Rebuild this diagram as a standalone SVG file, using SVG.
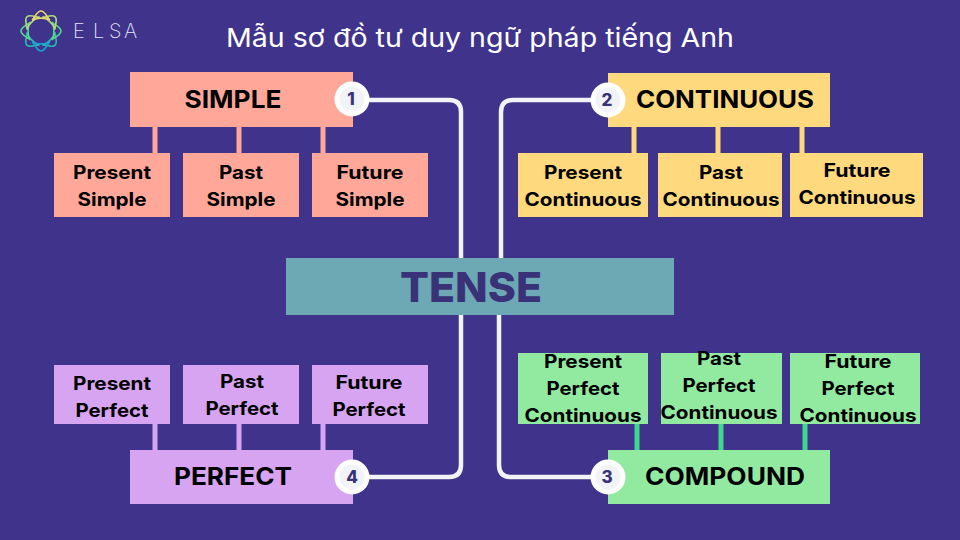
<svg xmlns="http://www.w3.org/2000/svg" width="960" height="540" viewBox="0 0 960 540">
<style>
text{font-family:"Inter","Open Sans","Liberation Sans",sans-serif;font-weight:700;fill:#000;text-anchor:middle}
.sub{font-size:18.5px;font-weight:700}
.main{font-size:24px;font-weight:700}
.pipe{stroke-width:5;fill:none}
.wire{stroke:#f2f3f7;stroke-width:4.5;fill:none}
.ring{fill:#f2f3f7;stroke:#fff;stroke-width:5}
.num{font-size:17px;fill:#3a3278;font-weight:800}
.s{fill:#ffa899}.c{fill:#ffd97d}.g{fill:#92eaa0}.p{fill:#d6a4f0}
</style>
<defs>
<path id="petal" fill="none" stroke-width="1.6" d="M-9 -11C-6.500 -12-4.500 -20 0 -20C4.500 -20 6.500 -12 9 -11C5 -13.500-5 -13.500-9 -11Z"/>
</defs>
<rect width="960" height="540" fill="#3f338c"/>
<g id="logo">
<use href="#petal" transform="translate(41 31) rotate(225)" stroke="#2bc0ad"/>
<use href="#petal" transform="translate(41 31) rotate(135)" stroke="#2bc0ad"/>
<use href="#petal" transform="translate(41 31) rotate(180)" stroke="#1a9fd0"/>
<use href="#petal" transform="translate(41 31) rotate(270)" stroke="#5fd78e"/>
<use href="#petal" transform="translate(41 31) rotate(90)" stroke="#5fd78e"/>
<use href="#petal" transform="translate(41 31) rotate(315)" stroke="#b0dc78"/>
<use href="#petal" transform="translate(41 31) rotate(45)" stroke="#b0dc78"/>
<use href="#petal" transform="translate(41 31)" stroke="#ecd76c"/>
</g>
<text id="brand" x="73 93 109 124" y="38" style="text-anchor:start;font-weight:200;font-size:20px;fill:#e6e6f5">ELSA</text>
<text id="title" x="480" y="47" textLength="508" lengthAdjust="spacingAndGlyphs" style="font-weight:400;font-size:26px;fill:#fff">Mẫu sơ đồ tư duy ngữ pháp tiếng Anh</text>
<g id="connectors">
<g class="pipe" stroke="#ffa899"><path d="M155 127V153M239 127V153M323 127V153"/></g>
<g class="pipe" stroke="#ffd97d"><path d="M634 127V153M718 127V153M802 127V153"/></g>
<g class="pipe" stroke="#3fd68f"><path d="M637 424V450M721 424V450M805 424V450"/></g>
<g class="pipe" stroke="#d6a4f0"><path d="M155 424V450M239 424V450M323 424V450"/></g>
<path class="wire" d="M352 100H449Q461 100 461 112V258"/>
<path class="wire" d="M608 100H513Q501 100 501 112V258"/>
<path class="wire" d="M461 315V465Q461 477 449 477H352"/>
<path class="wire" d="M499 315V465Q499 477 511 477H608"/>
</g>
<g id="simple"><rect class="s" x="130" y="72" width="223" height="55"/><text class="main" x="233" y="108" textLength="97" lengthAdjust="spacingAndGlyphs">SIMPLE</text></g>
<g id="continuous"><rect class="c" x="608" y="73" width="222" height="54"/><text class="main" x="725" y="108" textLength="178" lengthAdjust="spacingAndGlyphs">CONTINUOUS</text></g>
<g id="perfect"><rect class="p" x="130" y="450" width="223" height="54"/><text class="main" x="233" y="485" textLength="118" lengthAdjust="spacingAndGlyphs">PERFECT</text></g>
<g id="compound"><rect class="g" x="608" y="450" width="222" height="54"/><text class="main" x="725" y="485" textLength="160" lengthAdjust="spacingAndGlyphs">COMPOUND</text></g>
<g id="tense"><rect fill="#6ca9b4" x="286" y="258" width="388" height="57"/><text x="471" y="302" textLength="142" lengthAdjust="spacingAndGlyphs" style="font-size:41px;font-weight:800;fill:#3a3278">TENSE</text></g>
<g id="present-simple"><rect class="s" x="54" y="153" width="116" height="64"/><text class="sub" x="112" y="179" textLength="78" lengthAdjust="spacingAndGlyphs">Present</text><text class="sub" x="112" y="206" textLength="69" lengthAdjust="spacingAndGlyphs">Simple</text></g>
<g id="past-simple"><rect class="s" x="183" y="153" width="116" height="64"/><text class="sub" x="241" y="179" textLength="44" lengthAdjust="spacingAndGlyphs">Past</text><text class="sub" x="241" y="206" textLength="69" lengthAdjust="spacingAndGlyphs">Simple</text></g>
<g id="future-simple"><rect class="s" x="312" y="153" width="116" height="64"/><text class="sub" x="370" y="179" textLength="67" lengthAdjust="spacingAndGlyphs">Future</text><text class="sub" x="370" y="206" textLength="69" lengthAdjust="spacingAndGlyphs">Simple</text></g>
<g id="present-continuous"><rect class="c" x="518" y="153" width="130" height="64"/><text class="sub" x="583" y="179" textLength="78" lengthAdjust="spacingAndGlyphs">Present</text><text class="sub" x="583" y="206" textLength="117" lengthAdjust="spacingAndGlyphs">Continuous</text></g>
<g id="past-continuous"><rect class="c" x="658" y="153" width="124" height="64"/><text class="sub" x="721" y="179" textLength="44" lengthAdjust="spacingAndGlyphs">Past</text><text class="sub" x="721" y="206" textLength="117" lengthAdjust="spacingAndGlyphs">Continuous</text></g>
<g id="future-continuous"><rect class="c" x="790" y="153" width="133" height="64"/><text class="sub" x="857" y="177" textLength="67" lengthAdjust="spacingAndGlyphs">Future</text><text class="sub" x="857" y="204" textLength="117" lengthAdjust="spacingAndGlyphs">Continuous</text></g>
<g id="present-perfect"><rect class="p" x="54" y="365" width="116" height="59"/><text class="sub" x="112" y="390" textLength="78" lengthAdjust="spacingAndGlyphs">Present</text><text class="sub" x="112" y="417" textLength="73" lengthAdjust="spacingAndGlyphs">Perfect</text></g>
<g id="past-perfect"><rect class="p" x="183" y="365" width="116" height="59"/><text class="sub" x="242" y="388" textLength="44" lengthAdjust="spacingAndGlyphs">Past</text><text class="sub" x="242" y="415" textLength="73" lengthAdjust="spacingAndGlyphs">Perfect</text></g>
<g id="future-perfect"><rect class="p" x="312" y="365" width="116" height="59"/><text class="sub" x="369" y="389" textLength="67" lengthAdjust="spacingAndGlyphs">Future</text><text class="sub" x="369" y="416" textLength="73" lengthAdjust="spacingAndGlyphs">Perfect</text></g>
<g id="present-perfect-continuous"><rect class="g" x="518" y="353" width="130" height="71"/><text class="sub" x="583" y="368" textLength="78" lengthAdjust="spacingAndGlyphs">Present</text><text class="sub" x="583" y="395" textLength="73" lengthAdjust="spacingAndGlyphs">Perfect</text><text class="sub" x="583" y="422" textLength="117" lengthAdjust="spacingAndGlyphs">Continuous</text></g>
<g id="past-perfect-continuous"><rect class="g" x="661" y="353" width="121" height="71"/><text class="sub" x="719" y="365" textLength="44" lengthAdjust="spacingAndGlyphs">Past</text><text class="sub" x="719" y="392" textLength="73" lengthAdjust="spacingAndGlyphs">Perfect</text><text class="sub" x="719" y="419" textLength="117" lengthAdjust="spacingAndGlyphs">Continuous</text></g>
<g id="future-perfect-continuous"><rect class="g" x="790" y="353" width="130" height="71"/><text class="sub" x="858" y="368" textLength="67" lengthAdjust="spacingAndGlyphs">Future</text><text class="sub" x="858" y="395" textLength="73" lengthAdjust="spacingAndGlyphs">Perfect</text><text class="sub" x="858" y="422" textLength="117" lengthAdjust="spacingAndGlyphs">Continuous</text></g>
<g id="badge-1"><circle class="ring" cx="352" cy="99" r="15"/><text class="num" x="351" y="105">1</text></g>
<g id="badge-2"><circle class="ring" cx="608" cy="100" r="15"/><text class="num" x="607" y="106">2</text></g>
<g id="badge-3"><circle class="ring" cx="608" cy="477" r="15"/><text class="num" x="607" y="483">3</text></g>
<g id="badge-4"><circle class="ring" cx="352" cy="477" r="15"/><text class="num" x="352" y="483">4</text></g>
</svg>
